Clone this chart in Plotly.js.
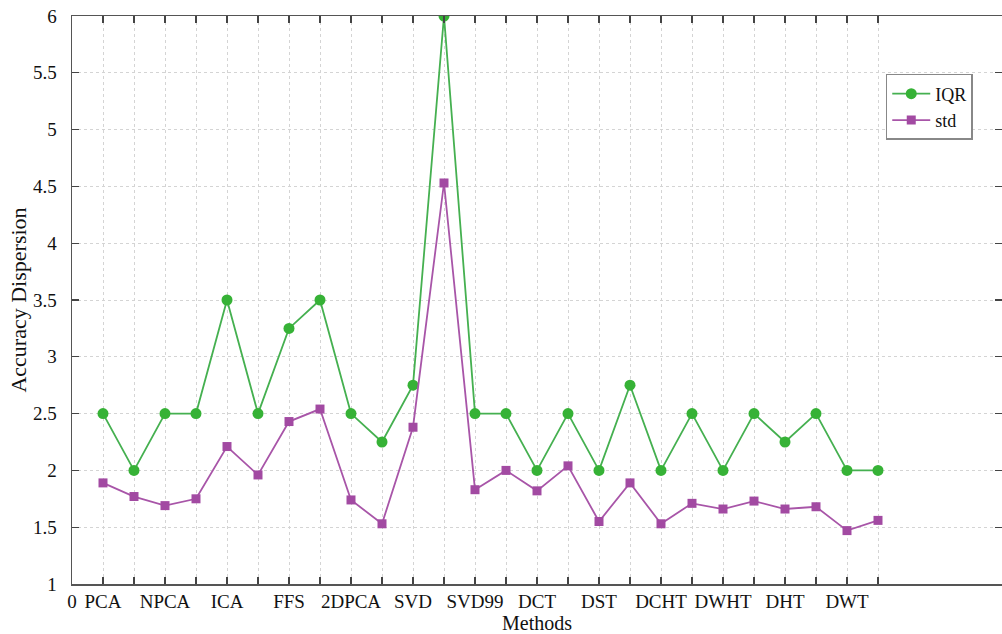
<!DOCTYPE html>
<html>
<head>
<meta charset="utf-8">
<script src="https://cdn.plot.ly/plotly-3.0.1.min.js"></script>
<style>
  html, body { margin: 0; padding: 0; background: #fff; }
  #chart { width: 1002px; height: 634px; }
</style>
</head>
<body>
<div id="chart"></div>
<script>
// Method index along the x axis (1..26)
const methodIndex = [1,2,3,4,5,6,7,8,9,10,11,12,13,14,15,16,17,18,19,20,21,22,23,24,25,26];

// Interquartile range of accuracy per method
const iqrValues = [2.5,2.0,2.5,2.5,3.5,2.5,3.25,3.5,2.5,2.25,2.75,6.0,2.5,2.5,2.0,2.5,2.0,2.75,2.0,2.5,2.0,2.5,2.25,2.5,2.0,2.0];

// Standard deviation of accuracy per method
const stdValues = [1.89,1.77,1.69,1.75,2.21,1.96,2.43,2.54,1.74,1.53,2.38,4.53,1.83,2.0,1.82,2.04,1.55,1.89,1.53,1.71,1.66,1.73,1.66,1.68,1.47,1.56];

// Tick positions and labels on the method axis
const tickPositions = [0,1,2,3,4,5,6,7,8,9,10,11,12,13,14,15,16,17,18,19,20,21,22,23,24,25,26];
const tickLabels = ["0","PCA","","NPCA","","ICA","","FFS","","2DPCA","","SVD","","SVD99","","DCT","","DST","","DCHT","","DWHT","","DHT","","DWT",""];

const serif = "'Liberation Serif', 'Times New Roman', serif";

const traces = [
  {
    x: methodIndex, y: iqrValues, name: "IQR",
    type: "scatter", mode: "lines+markers",
    line: { color: "#45b050", width: 1.8 },
    marker: { symbol: "circle", size: 11, color: "#36b236" }
  },
  {
    x: methodIndex, y: stdValues, name: "std",
    type: "scatter", mode: "lines+markers",
    line: { color: "#a855a8", width: 1.8 },
    marker: { symbol: "square", size: 9, color: "#a24aa2" }
  }
];

const layout = {
  width: 1002, height: 634,
  margin: { l: 72, r: 0, t: 16, b: 50 },
  paper_bgcolor: "#fff", plot_bgcolor: "#fff",
  font: { family: serif, color: "#111", size: 19 },
  showlegend: true,
  legend: {
    x: 0.875, y: 0.898, xanchor: "left", yanchor: "top",
    bgcolor: "#fff", bordercolor: "#888", borderwidth: 1.5,
    font: { family: serif, size: 18, color: "#111" },
    itemwidth: 38,
    tracegroupgap: 0
  },
  xaxis: {
    range: [0, 30],
    tickmode: "array", tickvals: tickPositions, ticktext: tickLabels,
    ticks: "inside", ticklen: 7, tickcolor: "#444", tickwidth: 1.2,
    showline: true, linecolor: "#555", linewidth: 1.5, mirror: "ticks",
    showgrid: true, gridcolor: "#d4d4d4", griddash: "dot", gridwidth: 1,
    zeroline: false,
    tickfont: { family: serif, size: 19, color: "#111" },
    title: { text: "Methods", font: { family: serif, size: 20, color: "#111" }, standoff: 4 }
  },
  yaxis: {
    range: [1, 6],
    tickmode: "array",
    tickvals: [1,1.5,2,2.5,3,3.5,4,4.5,5,5.5,6],
    ticktext: ["1","1.5","2","2.5","3","3.5","4","4.5","5","5.5","6"],
    ticks: "inside", ticklen: 7, tickcolor: "#444", tickwidth: 1.2,
    ticklabelstandoff: 10,
    showline: true, linecolor: "#555", linewidth: 1.5, mirror: "ticks",
    showgrid: true, gridcolor: "#d4d4d4", griddash: "dot", gridwidth: 1,
    zeroline: false,
    tickfont: { family: serif, size: 19, color: "#111" },
    title: { text: "Accuracy Dispersion", font: { family: serif, size: 22, color: "#111" }, standoff: 0 }
  }
};

Plotly.newPlot("chart", traces, layout, { displayModeBar: false, staticPlot: true });
</script>
</body>
</html>
